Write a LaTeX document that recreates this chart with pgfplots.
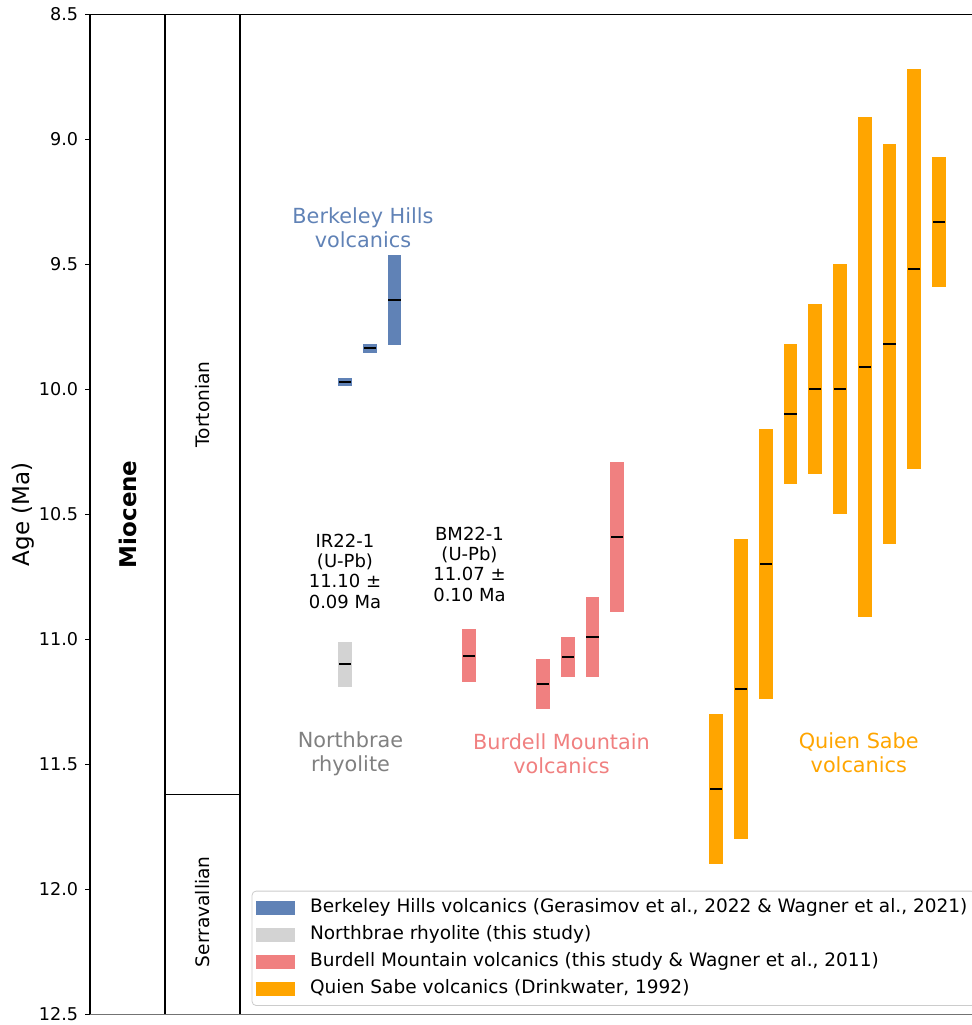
\documentclass[border=0pt]{standalone}
\usepackage{fontspec}
\setmainfont{DejaVu Sans}
\usepackage{pgfplots}
\pgfplotsset{compat=1.18}
\usepackage{pgfplotstable}

\definecolor{bhblue}{HTML}{6082B6}
\definecolor{nbgray}{HTML}{D3D3D3}
\definecolor{bmred}{HTML}{F08080}
\definecolor{qsorange}{HTML}{FFA500}
\definecolor{labgray}{HTML}{808080}

% k = sample slot, med = age (Ma), lo/hi = range (Ma)
\pgfplotstableread{
k med lo hi
0 9.970 9.955 9.985
1 9.835 9.818 9.854
2 9.644 9.463 9.824
}\bhdata
\pgfplotstableread{
k med lo hi
0 11.10 11.01 11.19
}\nbdata
\pgfplotstableread{
k med lo hi
5 11.065 10.96 11.17
8 11.18 11.08 11.28
9 11.07 10.99 11.15
10 10.99 10.83 11.15
11 10.59 10.29 10.89
}\bmdata
\pgfplotstableread{
k med lo hi
15 11.60 11.30 11.90
16 11.20 10.60 11.80
17 10.70 10.16 11.24
18 10.10 9.82 10.38
19 10.00 9.66 10.34
20 10.00 9.50 10.50
21 9.91 8.91 10.91
22 9.82 9.02 10.62
23 9.52 8.72 10.32
24 9.33 9.07 9.59
}\qsdata

\pgfplotsset{
  rangebar/.style={forget plot, draw=none, mark=none,
    error bars/.cd, y dir=both, y explicit, error mark=none,
    error bar style={draw=#1, line width=6.85pt}},
  medbar/.style={forget plot, only marks, mark=-, mark size=3.1pt,
    mark options={line width=1pt, black}},
  patchleg/.style={legend image code/.code={%
    \fill[##1, draw=none, rounded corners=0pt] (0pt,-3.6pt) rectangle (19.5pt,3.6pt);
    \path[draw=none, fill=none] (0pt,0pt) rectangle (25pt,0.1pt);}},
}

\begin{document}
\begin{tikzpicture}
\begin{axis}[
  name=ax,
  scale only axis,
  width=445pt, height=500pt,
  xmin=-10.303, xmax=25.657,
  ymin=8.5, ymax=12.5, y dir=reverse,
  enlargelimits=false,
  clip=false,
  axis x line=none,
  axis y line*=left,
  axis line style={line width=0.65pt, black},
  ytick={8.5,9.0,9.5,10.0,10.5,11.0,11.5,12.0,12.5},
  tick align=outside,
  major tick length=2.4pt,
  ytick style={line width=0.5pt, black},
  yticklabel style={font=\fontsize{8.8}{10}\selectfont,
    /pgf/number format/.cd, fixed, fixed zerofill, precision=1, assume math mode=true},
  ylabel={Age (Ma)},
  every axis y label/.style={at={(axis description cs:-0.0753,0.5)}, rotate=90, anchor=center,
    font=\fontsize{11.5}{13}\selectfont},
  legend style={at={(axis cs:-3.77,12.0056)}, anchor=north west,
    font=\fontsize{9.25}{11}\selectfont, draw=black!20, fill=white, rounded corners=2pt,
    inner xsep=2pt, inner ysep=1.6pt, row sep=0pt,
    nodes={inner ysep=2.25pt, text height=6.8pt, text depth=2.2pt}},
  legend cell align=left,
]
% stage columns
\draw[line width=0.65pt, black] (axis cs:-10.303,8.5) -- (axis cs:25.657,8.5);
\draw[line width=0.65pt, black!55] (axis cs:-10.303,12.5) -- (axis cs:25.657,12.5);
\draw[line width=0.65pt, black] (axis cs:-7.273,8.5) -- (axis cs:-7.273,12.5);
\draw[line width=0.65pt, black] (axis cs:-4.242,8.5) -- (axis cs:-4.242,12.5);
\draw[line width=0.65pt, black] (axis cs:-7.273,11.62) -- (axis cs:-4.242,11.62);
\node[rotate=90, font=\bfseries\fontsize{11.5}{13}\selectfont] at (axis cs:-8.788,10.5) {Miocene};
\node[rotate=90, font=\fontsize{9.3}{11}\selectfont] at (axis cs:-5.758,10.06) {Tortonian};
\node[rotate=90, font=\fontsize{9.3}{11}\selectfont] at (axis cs:-5.758,12.09) {Serravallian};

% range bars
\addplot[rangebar=bhblue] table[x=k, y=med, y error plus expr=\thisrow{hi}-\thisrow{med}, y error minus expr=\thisrow{med}-\thisrow{lo}] {\bhdata};
\addplot[rangebar=nbgray] table[x=k, y=med, y error plus expr=\thisrow{hi}-\thisrow{med}, y error minus expr=\thisrow{med}-\thisrow{lo}] {\nbdata};
\addplot[rangebar=bmred] table[x=k, y=med, y error plus expr=\thisrow{hi}-\thisrow{med}, y error minus expr=\thisrow{med}-\thisrow{lo}] {\bmdata};
\addplot[rangebar=qsorange] table[x=k, y=med, y error plus expr=\thisrow{hi}-\thisrow{med}, y error minus expr=\thisrow{med}-\thisrow{lo}] {\qsdata};
% medians
\addplot[medbar] table[x=k, y=med] {\bhdata};
\addplot[medbar] table[x=k, y=med] {\nbdata};
\addplot[medbar] table[x=k, y=med] {\bmdata};
\addplot[medbar] table[x=k, y=med] {\qsdata};

% legend
\addlegendimage{patchleg, fill=bhblue}
\addlegendentry{Berkeley Hills volcanics (Gerasimov et al., 2022 \& Wagner et al., 2021)}
\addlegendimage{patchleg, fill=nbgray}
\addlegendentry{Northbrae rhyolite (this study)}
\addlegendimage{patchleg, fill=bmred}
\addlegendentry{Burdell Mountain volcanics (this study \& Wagner et al., 2011)}
\addlegendimage{patchleg, fill=qsorange}
\addlegendentry{Quien Sabe volcanics (Drinkwater, 1992)}

% group labels
\node[align=center, text=bhblue, font=\fontsize{10.4}{12}\selectfont] at (axis cs:0.727,9.355) {Berkeley Hills\\volcanics};
\node[align=center, text=labgray, font=\fontsize{10.4}{12}\selectfont] at (axis cs:0.222,11.459) {Northbrae\\rhyolite};
\node[align=center, text=bmred, font=\fontsize{10.4}{12}\selectfont] at (axis cs:8.747,11.459) {Burdell Mountain\\volcanics};
\node[align=center, text=qsorange, font=\fontsize{10.4}{12}\selectfont] at (axis cs:20.76,11.453) {Quien Sabe\\volcanics};

% annotations
\node[align=center, font=\fontsize{9}{10.15}\selectfont] at (axis cs:0,10.727) {IR22-1\\(U-Pb)\\11.10 ±\\0.09 Ma};
\node[align=center, font=\fontsize{9}{10.15}\selectfont] at (axis cs:5.03,10.699) {BM22-1\\(U-Pb)\\11.07 ±\\0.10 Ma};
\end{axis}
\pgfresetboundingbox
\useasboundingbox ([xshift=-45pt,yshift=-5.35pt]ax.south west) rectangle ([xshift=441pt,yshift=7.15pt]ax.north west);
\end{tikzpicture}
\end{document}
